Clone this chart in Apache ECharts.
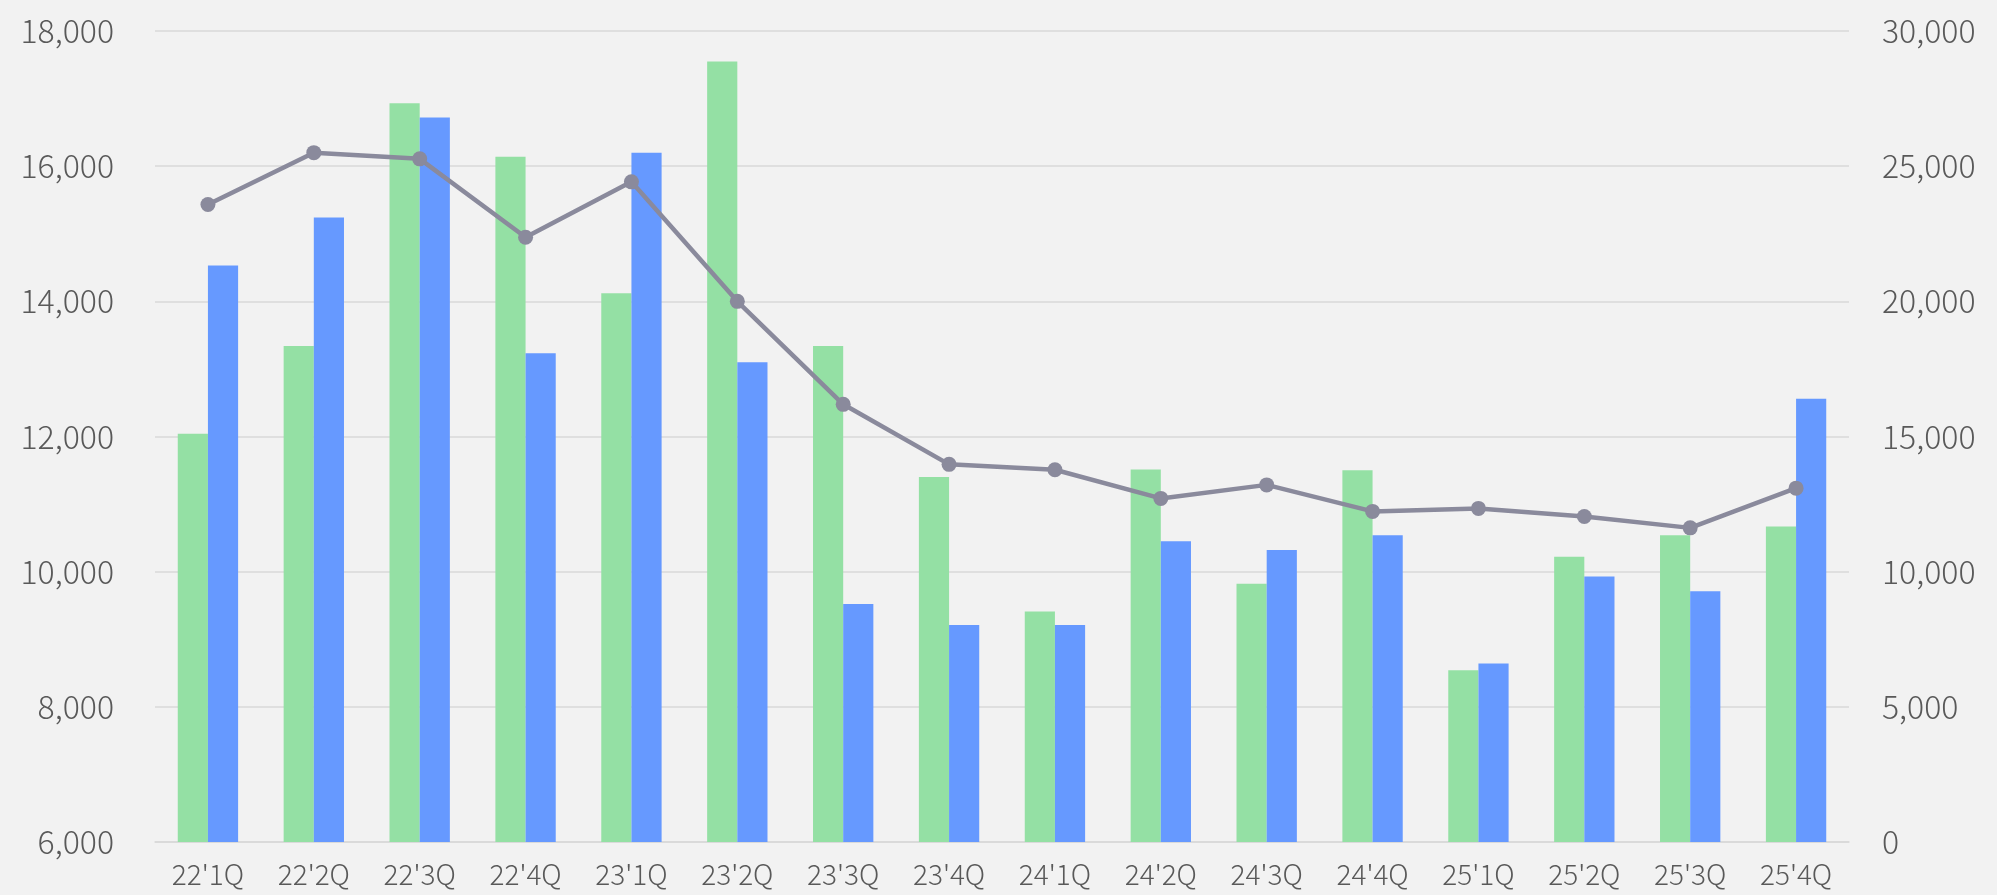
<!DOCTYPE html>
<html>
<head>
<meta charset="utf-8">
<script src="https://cdn.jsdelivr.net/npm/echarts@6/dist/echarts.min.js"></script>
<style>
html,body{margin:0;padding:0;background:#f2f2f2;}
#chart{width:1997px;height:895px;}
</style>
</head>
<body>
<div id="chart"></div>
<script>
const categories = ["22'1Q","22'2Q","22'3Q","22'4Q","23'1Q","23'2Q","23'3Q","23'4Q","24'1Q","24'2Q","24'3Q","24'4Q","25'1Q","25'2Q","25'3Q","25'4Q"];
const greenValues = [12040, 13340, 16930, 16140, 14120, 17550, 13340, 11400, 9410, 11510, 9820, 11500, 8540, 10220, 10540, 10670];
const blueValues = [14530, 15240, 16720, 13230, 16200, 13100, 9520, 9210, 9210, 10450, 10320, 10540, 8640, 9930, 9710, 12560];
const lineValues = [23580, 25500, 25270, 22370, 24420, 20000, 16190, 13970, 13770, 12710, 13210, 12230, 12340, 12040, 11620, 13090];

const fmt = v => Number(v).toLocaleString('en-US');
const font = '"Noto Sans CJK JP", "Noto Sans", sans-serif';

const chart = echarts.init(document.getElementById('chart'), null, {renderer: 'canvas'});
chart.setOption({
  backgroundColor: '#f2f2f2',
  animation: false,
  grid: {left: 155, right: 148, top: 31, bottom: 53, containLabel: false},
  xAxis: {
    type: 'category',
    data: categories,
    boundaryGap: true,
    axisLine: {show: true, lineStyle: {color: '#d9d9d9', width: 1.5}},
    axisTick: {show: false},
    axisLabel: {color: '#595959', fontSize: 28, fontWeight: 300, fontFamily: font, margin: 18}
  },
  yAxis: [
    {
      type: 'value', min: 6000, max: 18000, interval: 2000,
      axisLine: {show: false}, axisTick: {show: false},
      splitLine: {lineStyle: {color: '#d9d9d9', width: 1.5}},
      axisLabel: {color: '#595959', fontSize: 32, fontWeight: 300, fontFamily: font, margin: 41, formatter: fmt}
    },
    {
      type: 'value', min: 0, max: 30000, interval: 5000,
      axisLine: {show: false}, axisTick: {show: false},
      splitLine: {show: false},
      axisLabel: {color: '#595959', fontSize: 32, fontWeight: 300, fontFamily: font, margin: 33, formatter: fmt}
    }
  ],
  series: [
    {
      type: 'bar', data: greenValues, yAxisIndex: 0,
      barGap: '0%', barCategoryGap: '43%',
      itemStyle: {color: '#94e0a4'}
    },
    {
      type: 'bar', data: blueValues, yAxisIndex: 0,
      barGap: '0%', barCategoryGap: '43%',
      itemStyle: {color: '#6699ff'}
    },
    {
      type: 'line', data: lineValues, yAxisIndex: 1, z: 5,
      symbol: 'circle', symbolSize: 15,
      lineStyle: {color: '#8a8a9c', width: 4.5},
      itemStyle: {color: '#8a8a9c'}
    }
  ]
});
</script>
</body>
</html>
